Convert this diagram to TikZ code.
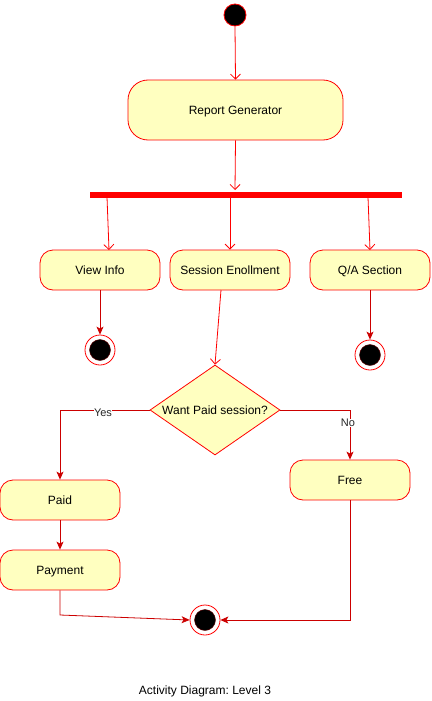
\documentclass[tikz,border=0pt]{standalone}
\usepackage{fontspec}
\setmainfont{Liberation Sans}
\usetikzlibrary{shapes.geometric,arrows.meta}
\definecolor{actfill}{HTML}{FFFFC0}
\definecolor{dred}{HTML}{CC0000}
\frenchspacing
\begin{document}
\begin{tikzpicture}[x=1pt,y=-1pt,
  font=\fontsize{12}{14}\selectfont,
  act/.style={draw=red,fill=actfill,line width=0.8pt,rounded corners=13pt,minimum width=120pt,minimum height=40pt,inner sep=0pt,text height=8.6pt,text depth=0pt},
  openarr/.style={draw=red,line width=0.8pt,-{Straight Barb[length=5pt,width=10pt,line width=0.8pt]}},
  fillarr/.style={draw=dred,line width=0.8pt,-{Stealth[length=8pt,width=7pt,inset=2pt]}},
  startn/.style={circle,draw=red,fill=black,minimum size=22pt,inner sep=0pt,line width=0.8pt},
  endo/.style={circle,draw=red,fill=white,minimum size=30pt,inner sep=0pt,line width=0.8pt},
  endi/.style={circle,draw=red!40!black,fill=black,minimum size=21pt,inner sep=0pt,line width=0.4pt},
  txt/.style={inner sep=0pt,text height=8.6pt,text depth=0pt},
  lbl/.style={font=\fontsize{11}{13}\selectfont,fill=white,inner sep=0.5pt,text=black!85}]
\useasboundingbox (0,0) rectangle (431,701);
% nodes
\node[startn] (start) at (235,15) {};
\node[act,minimum width=215pt,minimum height=60pt,rounded corners=20pt] (rg) at (235.5,110) {Report Generator};
\node[draw=red,fill=red,minimum width=311pt,minimum height=5pt,inner sep=0pt] (bar) at (245.5,195) {};
\node[act] (vi) at (100,270) {View Info};
\node[act] (se) at (230,270) {Session Enollment};
\node[act] (qa) at (370,270) {Q/A Section};
\node[endo] (e1) at (100,350) {};
\node[endi] at (100,350) {};
\node[endo] (e2) at (370,355) {};
\node[endi] at (370,355) {};
\node[diamond,draw=red,fill=actfill,line width=0.8pt,minimum width=130pt,minimum height=90pt,inner sep=0pt,aspect=1.444] (dec) at (215,410) {};
\node[txt] (dect) at (215,410) {Want Paid session?};
\node[act] (paid) at (60,500) {Paid};
\node[act] (pay) at (60,570) {Payment};
\node[act] (free) at (350,480) {Free};
\node[endo] (e3) at (205,620) {};
\node[endi] at (205,620) {};
\node[txt] (cap) at (205,690) {Activity Diagram: Level 3};
% coordinates
\coordinate (b1) at (107,197);
\coordinate (b2) at (230,197);
\coordinate (b3) at (368,197);
% connectors
\draw[openarr] (start.south) -- (rg.north);
\draw[openarr] (rg.south) -- (235,190);
\draw[openarr] (b1) -- (109,250);
\draw[openarr] (b2) -- (se.north);
\draw[openarr] (b3) -- (370,250);
\draw[fillarr] (vi.south) -- (e1.north);
\draw[fillarr] (qa.south) -- (e2.north);
\draw[openarr] (221,290) -- (dec.north);
\draw[fillarr] (dec.west) -- (60,410) -- (paid.north);
\node[lbl] at (103,413) {Yes};
\draw[fillarr] (dec.east) -- (350,410) -- (free.north);
\node[lbl] at (348,423) {No};
\draw[fillarr] (paid.south) -- (pay.north);
\draw[fillarr] (pay.south) -- (60,615) -- (e3.west);
\draw[fillarr] (free.south) -- (350,620) -- (e3.east);
\end{tikzpicture}
\end{document}
